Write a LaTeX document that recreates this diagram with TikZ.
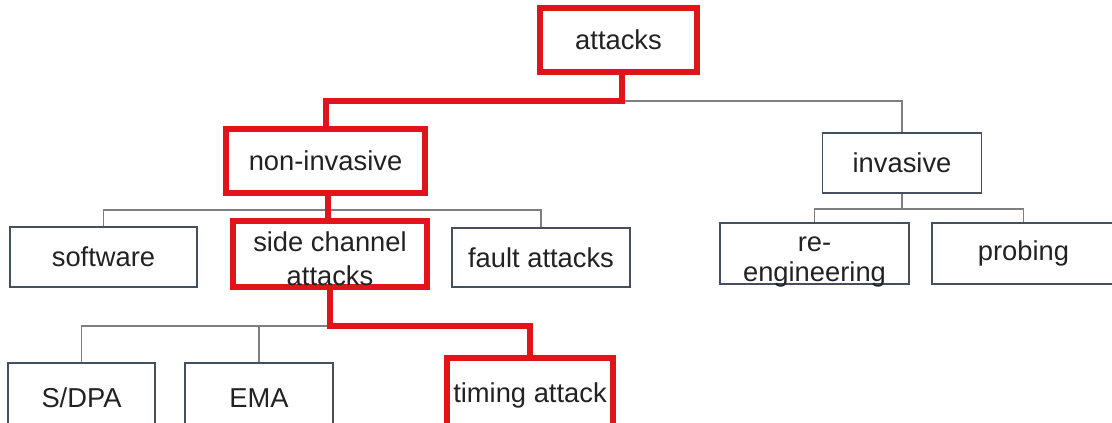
\documentclass[tikz,border=0pt]{standalone}
\usepackage{fontspec}
\setmainfont{Liberation Sans}
\definecolor{hl}{HTML}{E01419}
\definecolor{bx}{HTML}{44505F}
\definecolor{ln}{HTML}{7F7F7F}
\definecolor{tx}{HTML}{222222}
\begin{document}
\begin{tikzpicture}[x=0.75pt,y=-0.75pt,
  box/.style={draw=bx,line width=1.1pt,fill=white,inner sep=0pt,text=tx,
    font=\fontsize{20.5}{24}\selectfont,align=center},
  hot/.style={box,draw=hl,line width=4.5pt},
  gline/.style={draw=ln,line width=0.8pt},
  rline/.style={draw=hl,line width=4.5pt}]
\useasboundingbox (0,0) rectangle (1112,423);
% nodes
\node[hot,minimum width={157*0.75pt},minimum height={64*0.75pt}] (att) at (618.5,40) {attacks};
\node[hot,minimum width={199*0.75pt},minimum height={64*0.75pt}] (non) at (325.5,161) {non-invasive};
\node[box,minimum width={159*0.75pt},minimum height={60*0.75pt}] (inv) at (902,163) {invasive};
\node[box,minimum width={187*0.75pt},minimum height={60*0.75pt}] (sw) at (103.5,257) {software};
\node[box,minimum width={178*0.75pt},minimum height={59*0.75pt}] (fa) at (541,257.5) {fault attacks};
\node[box,minimum width={189*0.75pt},minimum height={61*0.75pt},
  font=\fontsize{20.5}{22.5}\selectfont,text height=42.5pt,text depth=0pt] (re) at (814.5,253.5) {re-\\engineering};
\node[box,minimum width={183*0.75pt},minimum height={61*0.75pt}] (pr) at (1023.5,253.5) {probing};
\node[box,minimum width={147*0.75pt},minimum height={70*0.75pt}] (sd) at (81.5,398) {S/DPA};
\node[box,minimum width={148*0.75pt},minimum height={70*0.75pt}] (ema) at (259,398) {EMA};
\node[hot,minimum width={166*0.75pt},minimum height={70*0.75pt},text height=18.5pt] (ta) at (530,393) {timing attack};
\node[hot,minimum width={194*0.75pt},minimum height={66*0.75pt},
  font=\fontsize{20.5}{25.5}\selectfont,text height=48pt,text depth=0pt] (sca) at (330,254) {side channel\\attacks};
% junction coordinates
\coordinate (j1) at (622,101);
\coordinate (j2) at (328,210);
\coordinate (j3) at (902,209);
\coordinate (j4) at (330,326);
% gray connectors
\draw[gline] (j1) -| (inv.north);
\draw[gline] (j2) -| (sw.north);
\draw[gline] (j2) -| (fa.north);
\draw[gline] (inv.south) -- (j3);
\draw[gline] (j3) -| (re.north);
\draw[gline] (j3) -| (pr.north);
\draw[gline] (j4) -| (sd.north);
\draw[gline] (j4) -| (ema.north);
% red path
\draw[rline] (att.south -| j1) -- (j1) -| (non.north);
\draw[rline] (non.south -| j2) -- (sca.north -| j2);
\draw[rline] (sca.south) -- (j4) -| (ta.north);
\end{tikzpicture}
\end{document}
